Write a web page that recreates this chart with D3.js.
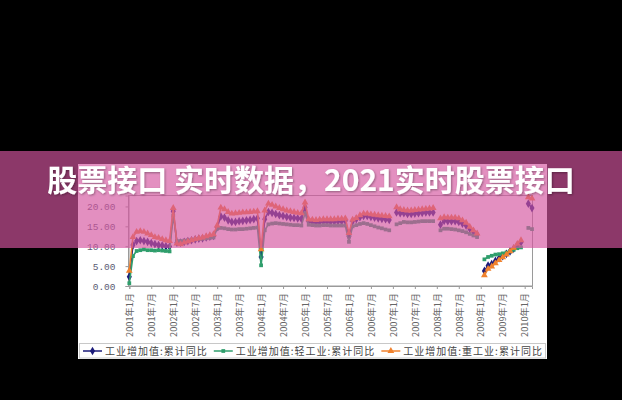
<!DOCTYPE html>
<html><head><meta charset="utf-8">
<script src="https://cdn.jsdelivr.net/npm/d3@7"></script>
<style>html,body{margin:0;padding:0;background:#000;}svg{display:block;}</style>
</head><body>
<script>
// ---- data ----
const months = [
"2001-01","2001-02","2001-03","2001-04","2001-05","2001-06","2001-07","2001-08","2001-09","2001-10","2001-11","2001-12",
"2002-01","2002-02","2002-03","2002-04","2002-05","2002-06","2002-07","2002-08","2002-09","2002-10","2002-11","2002-12",
"2003-01","2003-02","2003-03","2003-04","2003-05","2003-06","2003-07","2003-08","2003-09","2003-10","2003-11","2003-12",
"2004-01","2004-02","2004-03","2004-04","2004-05","2004-06","2004-07","2004-08","2004-09","2004-10","2004-11","2004-12",
"2005-01","2005-02","2005-03","2005-04","2005-05","2005-06","2005-07","2005-08","2005-09","2005-10","2005-11","2005-12",
"2006-01","2006-02","2006-03","2006-04","2006-05","2006-06","2006-07","2006-08","2006-09","2006-10","2006-11","2006-12",
"2007-01","2007-02","2007-03","2007-04","2007-05","2007-06","2007-07","2007-08","2007-09","2007-10","2007-11","2007-12",
"2008-01","2008-02","2008-03","2008-04","2008-05","2008-06","2008-07","2008-08","2008-09","2008-10","2008-11","2008-12",
"2009-01","2009-02","2009-03","2009-04","2009-05","2009-06","2009-07","2009-08","2009-09","2009-10","2009-11","2009-12",
"2010-01","2010-02","2010-03"];

const totalYoY = [
2.3,10.3,11.3,11.5,11.3,11.1,10.8,10.5,10.3,10.2,10.0,9.9,
18.8,10.9,10.9,11.1,11.3,11.5,11.7,11.9,12.0,12.2,12.4,12.6,
14.8,17.5,17.2,16.5,16.1,16.1,16.3,16.4,16.5,16.6,16.8,17.0,
7.3,16.8,18.6,18.4,18.1,17.8,17.6,17.4,17.2,17.1,17.0,16.9,
19.8,16.2,16.1,16.0,16.1,16.2,16.2,16.2,16.2,16.3,16.3,16.4,
12.5,16.3,16.8,17.3,17.6,17.6,17.4,17.2,17.0,16.9,16.8,16.6,
null,18.5,18.3,18.3,18.1,18.1,18.2,18.3,18.4,18.5,18.5,18.5,
null,15.4,16.4,16.3,16.3,16.3,16.1,15.7,15.2,14.4,13.7,12.9,
null,3.8,5.1,5.5,6.3,7.0,7.5,8.1,8.7,9.4,10.3,11.0,
null,20.7,19.6];

const lightYoY = [
0.7,7.5,8.8,9.0,9.2,9.0,9.0,8.9,9.0,8.9,8.8,8.7,
17.7,11.3,11.3,11.4,11.5,11.6,11.7,11.8,11.9,12.0,12.1,12.2,
14.4,14.6,14.5,14.3,14.2,14.2,14.3,14.3,14.4,14.5,14.6,14.7,
5.2,14.0,15.5,15.7,15.8,15.7,15.6,15.5,15.4,15.3,15.3,15.2,
18.3,15.4,15.3,15.2,15.2,15.3,15.3,15.2,15.2,15.2,15.2,15.2,
11.1,15.0,15.3,15.6,15.8,15.6,15.3,15.0,14.7,14.5,14.2,14.0,
null,15.5,15.8,16.1,16.0,16.0,16.1,16.2,16.3,16.3,16.3,16.3,
null,14.0,14.4,14.4,14.3,14.2,14.0,13.8,13.5,13.1,12.7,12.3,
null,6.7,7.3,7.6,7.9,8.0,8.2,8.4,8.7,9.1,9.5,9.7,
null,14.6,14.3];

const heavyYoY = [
3.8,12.3,13.6,13.8,13.6,13.2,12.8,12.3,12.1,11.8,11.5,11.3,
19.6,10.7,10.5,10.9,11.2,11.5,11.8,12.0,12.2,12.5,12.8,13.0,
15.2,19.7,19.3,18.6,18.2,18.3,18.4,18.5,18.5,18.6,18.7,18.8,
9.2,19.0,20.7,20.4,20.0,19.6,19.3,19.0,18.8,18.6,18.4,18.3,
21.0,16.8,16.7,16.6,16.7,16.8,16.8,16.8,16.8,16.9,16.9,17.0,
13.3,16.7,17.1,17.8,18.2,18.2,18.0,17.9,17.8,17.7,17.6,17.5,
null,19.8,19.3,19.1,19.0,19.0,19.1,19.2,19.3,19.4,19.5,19.6,
null,17.0,17.3,17.2,17.2,17.2,17.0,16.5,15.9,14.9,14.0,13.2,
null,2.7,4.3,4.9,5.7,6.5,7.2,7.9,8.7,9.6,10.6,11.5,
null,22.3,22.0];

const seriesNames = ["工业增加值:累计同比","工业增加值:轻工业:累计同比","工业增加值:重工业:累计同比"];
const tickMonths = ["2001-01","2001-07","2002-01","2002-07","2003-01","2003-07","2004-01","2004-07","2005-01","2005-07",
"2006-01","2006-07","2007-01","2007-07","2008-01","2008-07","2009-01","2009-07","2010-01"];
const tickLabels = ["2001年1月","2001年7月","2002年1月","2002年7月","2003年1月","2003年7月","2004年1月","2004年7月","2005年1月","2005年7月",
"2006年1月","2006年7月","2007年1月","2007年7月","2008年1月","2008年7月","2009年1月","2009年7月","2010年1月"];
const yTicks = [0,5,10,15,20];
const titleText = "股票接口 实时数据，2021实时股票接口";

// ---- drawing ----
const W = 622, H = 400;
const svg = d3.select("body").append("svg").attr("width", W).attr("height", H);
svg.append("rect").attr("width", W).attr("height", H).attr("fill", "#000");

// chart image (white)
svg.append("rect").attr("x", 78).attr("y", 164).attr("width", 469).attr("height", 195).attr("fill", "#fff");

const plot = {left: 128.5, right: 532.5, top: 195.5, bottom: 286};
const x = d3.scaleLinear().domain([0, months.length - 1]).range([129.3, 532]);
const y = d3.scaleLinear().domain([0, 22.75]).range([plot.bottom, plot.top]);

// frame
svg.append("rect").attr("x", plot.left).attr("y", plot.top)
  .attr("width", plot.right - plot.left).attr("height", plot.bottom - plot.top)
  .attr("fill", "none").attr("stroke", "#9a9a9a").attr("stroke-width", 1);

// y axis
const yAxis = svg.append("g").attr("transform", `translate(${plot.left},0)`)
  .call(d3.axisLeft(y).tickValues(yTicks).tickFormat(d3.format(".2f")).tickSize(3).tickPadding(10));
yAxis.select(".domain").attr("stroke", "#9a9a9a");
yAxis.selectAll(".tick line").attr("stroke", "#9a9a9a");
yAxis.selectAll(".tick text").attr("fill", "#5a5a72")
  .style("font-family", "'Liberation Mono', 'DejaVu Sans Mono', monospace").style("font-size", "9.5px");

// x axis
const xAxis = svg.append("g").attr("transform", `translate(0,${plot.bottom})`)
  .call(d3.axisBottom(x).tickValues(tickMonths.map(m => months.indexOf(m)))
    .tickFormat((d, i) => tickLabels[i]).tickSize(3).tickPadding(0));
xAxis.select(".domain").attr("stroke", "#9a9a9a");
xAxis.selectAll(".tick line").attr("stroke", "#9a9a9a");
xAxis.selectAll(".tick text")
  .attr("transform", "rotate(-90)").attr("text-anchor", "end")
  .attr("x", -7).attr("y", 0).attr("dy", "0.35em")
  .attr("fill", "#666").style("font-family", "'Noto Sans CJK SC', sans-serif").style("font-size", "9.2px");

// series
const seriesDefs = [
  {name: seriesNames[0], values: totalYoY, color: "#1b1b7a", sym: d3.symbolDiamond, size: 22},
  {name: seriesNames[1], values: lightYoY, color: "#2f9e6c", sym: d3.symbolSquare, size: 14},
  {name: seriesNames[2], values: heavyYoY, color: "#f0822e", sym: d3.symbolTriangle, size: 20}
];

const line = d3.line().defined(d => d.v != null).x(d => x(d.i)).y(d => y(d.v));
seriesDefs.forEach(s => {
  const pts = s.values.map((v, i) => ({i, v}));
  svg.append("path").datum(pts).attr("d", line)
    .attr("fill", "none").attr("stroke", s.color).attr("stroke-width", 1.6);
  svg.append("g").selectAll("path").data(pts.filter(d => d.v != null)).join("path")
    .attr("transform", d => `translate(${x(d.i)},${y(d.v)})`)
    .attr("d", d3.symbol(s.sym, s.size)).attr("fill", s.color);
});

// legend box
svg.append("rect").attr("x", 79.5).attr("y", 343.5).attr("width", 466).attr("height", 14.5)
  .attr("fill", "#fff").attr("stroke", "#c8c8c8");
let lx = 83;
const ly = 351;
seriesDefs.forEach(s => {
  const g = svg.append("g");
  g.append("line").attr("x1", lx).attr("x2", lx + 19).attr("y1", ly).attr("y2", ly)
    .attr("stroke", s.color).attr("stroke-width", 1.5);
  g.append("path").attr("transform", `translate(${lx + 9.5},${ly})`)
    .attr("d", d3.symbol(s.sym, s.size)).attr("fill", s.color);
  const t = g.append("text").attr("x", lx + 22).attr("y", ly).attr("dy", "0.36em")
    .attr("fill", "#444").style("font-family", "'Noto Sans CJK SC', sans-serif")
    .style("font-size", "10px").style("letter-spacing", "1px").text(s.name);
  lx = lx + 22 + t.node().getComputedTextLength() + 6;
});

// overlay band
svg.append("rect").attr("x", 0).attr("y", 151).attr("width", W).attr("height", 97)
  .attr("fill", "rgb(212,85,160)").attr("fill-opacity", 0.66);

// title
const defs = svg.append("defs");
const f = defs.append("filter").attr("id", "ts").attr("x", "-10%").attr("y", "-30%").attr("width", "120%").attr("height", "160%");
f.append("feDropShadow").attr("dx", 1).attr("dy", 1).attr("stdDeviation", 1.2)
  .attr("flood-color", "#000").attr("flood-opacity", 0.35);
svg.append("text").attr("x", W / 2).attr("y", 191).attr("text-anchor", "middle")
  .attr("fill", "#fff").attr("filter", "url(#ts)")
  .style("font-family", "'Noto Sans CJK SC', sans-serif").style("font-weight", 700)
  .style("font-size", "30px").text(titleText);
</script>
</body></html>
